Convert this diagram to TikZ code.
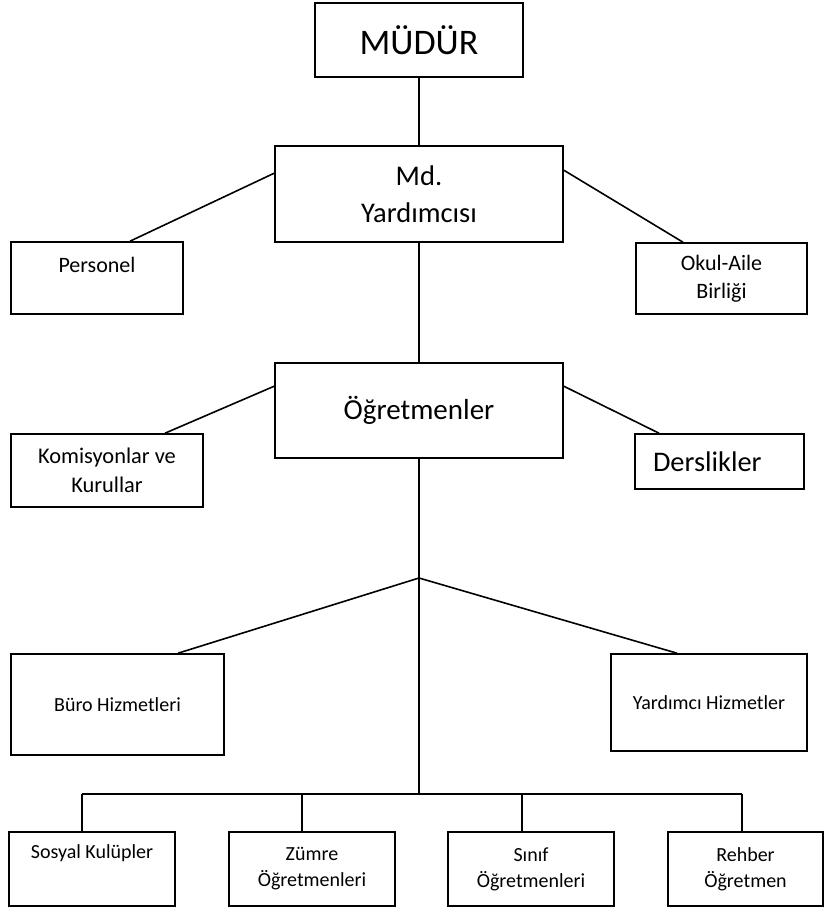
\documentclass[tikz,border=0pt]{standalone}
\usepackage{fontspec}
\setmainfont{Carlito}

\begin{document}
\begin{tikzpicture}[x=1pt,y=-1pt,
    box/.style={draw,rectangle,line width=1.6pt,align=center,inner sep=0pt},
    conn/.style={line width=1.6pt}]

    \useasboundingbox (0,0) rectangle (824,908);

    \node[box,minimum width=208,minimum height=74,font=\fontsize{36}{44}\selectfont](mudur)at(419,40){MÜDÜR};
    \node[box,minimum width=288,minimum height=96,font=\fontsize{28.5}{37}\selectfont](yard)at(419,194){Md.\\Yardımcısı};
    \node[box,minimum width=172,minimum height=72,font=\fontsize{22}{27}\selectfont](personel)at(97,278){Personel\\\mbox{}};
    \node[box,minimum width=171,minimum height=71,font=\fontsize{22}{28}\selectfont](okul)at(721.5,278.5){Okul-Aile\\Birliği};

    \node[box,minimum width=288,minimum height=95,font=\fontsize{29}{36}\selectfont](ogr)at(419,410.5){Öğretmenler};
    \node[box,minimum width=192,minimum height=73,font=\fontsize{22.4}{29}\selectfont](komisyon)at(107,470.5){Komisyonlar ve\\Kurullar};
    \node[box,minimum height=55,text width=133,align=left,inner xsep=18pt,font=\fontsize{28.4}{34}\selectfont](derslikler)at(719.5,461.5){Derslikler};

    \node[box,minimum width=213,minimum height=101,font=\fontsize{20}{26}\selectfont](buro)at(117.5,704.5){Büro Hizmetleri};
    \node[box,minimum width=196,minimum height=97,font=\fontsize{20}{26}\selectfont](yardimci)at(709,702.5){Yardımcı Hizmetler};

    \node[box,minimum width=166,minimum height=74,font=\fontsize{20}{26}\selectfont](sosyal)at(92,869){Sosyal Kulüpler\\[8pt]\mbox{}};
    \node[box,minimum width=166,minimum height=74,font=\fontsize{20}{26}\selectfont](zumre)at(312,869){Zümre\\Öğretmenleri};
    \node[box,minimum width=166,minimum height=74,font=\fontsize{20}{26}\selectfont](sinif)at(531,869){Sınıf\\Öğretmenleri};
    \node[box,minimum width=155,minimum height=74,font=\fontsize{20}{26}\selectfont](rehber)at(745.5,869){Rehber\\Öğretmen};

    % branching points
    \coordinate(j)at(419,578);
    \coordinate(k)at(419,794);
    \coordinate(b1)at(82,794);
    \coordinate(b2)at(302,794);
    \coordinate(b3)at(522,794);
    \coordinate(b4)at(742,794);

    \draw[conn](mudur.south)--(yard.north);
    \draw[conn]([yshift=-28]yard.north west)--([xshift=33]personel.north);
    \draw[conn]([yshift=-25]yard.north east)--([xshift=-38.5]okul.north);
    \draw[conn](yard.south)--(ogr.north);
    \draw[conn]([yshift=-24]ogr.north west)--([xshift=58]komisyon.north);
    \draw[conn]([yshift=-24]ogr.north east)--([xshift=-60.5]derslikler.north);

    \draw[conn](ogr.south)--(j)--(k);
    \draw[conn](j)--([xshift=60.5]buro.north);
    \draw[conn](j)--([xshift=-32]yardimci.north);

    \draw[conn](b1)--(b4);
    \foreach \n/\b in {sosyal/b1,zumre/b2,sinif/b3,rehber/b4}
        \draw[conn](\b)--(\b |- \n.north);

\end{tikzpicture}
\end{document}
